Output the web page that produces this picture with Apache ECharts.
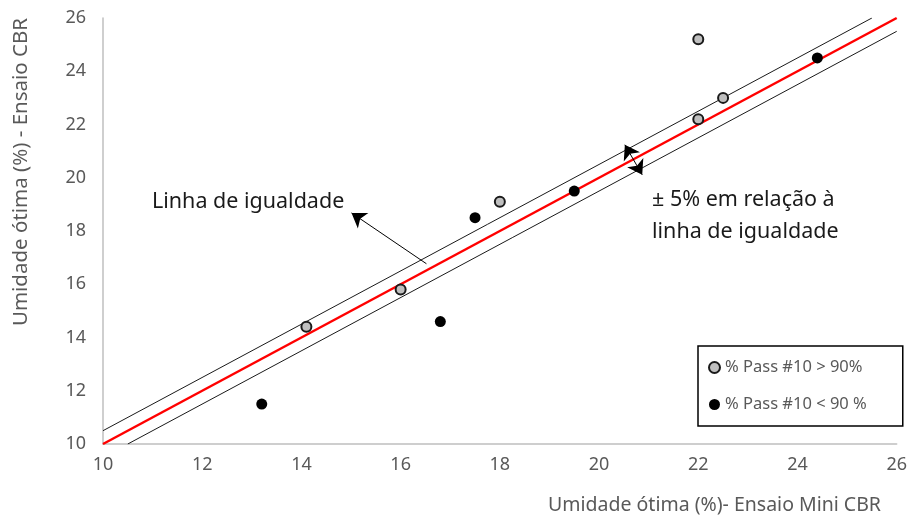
<!DOCTYPE html>
<html>
<head>
<meta charset="utf-8">
<script src="https://cdn.jsdelivr.net/npm/echarts@6/dist/echarts.min.js"></script>
<style>
  html, body { margin: 0; padding: 0; background: #fff; }
  #chart { width: 910px; height: 516px; }
</style>
</head>
<body>
<div id="chart"></div>
<script>
// ticks
const axisTicks = [10, 12, 14, 16, 18, 20, 22, 24, 26];

// % Pass #10 > 90%
const passHighX = [14.1, 16.0, 18.0, 22.0, 22.0, 22.5];
const passHighY = [14.4, 15.8, 19.1, 25.2, 22.2, 23.0];

// % Pass #10 < 90 %
const passLowX = [13.2, 16.8, 17.5, 19.5, 24.4];
const passLowY = [11.5, 14.6, 18.5, 19.5, 24.5];

// linha de igualdade e faixa +/-
const equalityLine = [[10, 10], [26, 26]];
const upperLine = [[10, 10.5], [25.5, 26]];
const lowerLine = [[10.5, 10], [26, 25.5]];

// setas das anotações (coordenadas em dados)
const arrowEquality = [[16.52, 16.77], [15.01, 18.68]];
const arrowBand = [[20.52, 21.24], [20.87, 20.11]];

const font = "'Noto Sans', 'Open Sans', sans-serif";
const grey = "#595959";

const zip = (xs, ys) => xs.map((x, i) => [x, ys[i]]);

const chart = echarts.init(document.getElementById("chart"));

const options = {
  animation: false,
  grid: {
    left: 103,
    right: 12,
    top: 18,
    bottom: 72,
  },
  xAxis: {
    type: "value",
    min: axisTicks[0],
    max: axisTicks[axisTicks.length - 1],
    interval: 2,
    axisLine: { show: true, lineStyle: { color: "#bfbfbf", width: 1.5 } },
    axisTick: { show: false },
    splitLine: { show: false },
    axisLabel: { color: grey, fontSize: 18, fontFamily: font, margin: 12 },
  },
  yAxis: {
    type: "value",
    min: axisTicks[0],
    max: axisTicks[axisTicks.length - 1],
    interval: 2,
    axisLine: { show: true, lineStyle: { color: "#bfbfbf", width: 1.5 } },
    axisTick: { show: false },
    splitLine: { show: false },
    axisLabel: { color: grey, fontSize: 18, fontFamily: font, margin: 17 },
  },
  legend: {
    orient: "vertical",
    left: 698,
    top: 346,
    itemWidth: 11,
    itemHeight: 11,
    itemGap: 20,
    padding: [13, 36, 13, 10],
    borderColor: "#000",
    borderWidth: 1.5,
    textStyle: { color: grey, fontSize: 16.5, fontFamily: font },
    data: [
      { name: "% Pass #10 > 90%", icon: "circle" },
      { name: "% Pass #10 < 90 %", icon: "circle" },
    ],
  },
  graphic: [
    {
      type: "text",
      rotation: Math.PI / 2,
      silent: true,
      x: 21,
      y: 172,
      style: {
        text: "Umidade ótima (%) - Ensaio CBR",
        fill: grey,
        font: "20.5px " + font,
        align: "center",
        verticalAlign: "middle",
      },
    },
    {
      type: "text",
      x: 881,
      y: 505,
      silent: true,
      style: {
        text: "Umidade ótima (%)- Ensaio Mini CBR",
        fill: grey,
        font: "19.5px " + font,
        align: "right",
        verticalAlign: "middle",
      },
    },
    {
      type: "text",
      x: 152,
      y: 202,
      silent: true,
      style: {
        text: "Linha de igualdade",
        fill: "#1a1a1a",
        font: "21.5px " + font,
        align: "left",
        verticalAlign: "middle",
      },
    },
    {
      type: "text",
      x: 652,
      y: 216,
      silent: true,
      style: {
        text: "± 5% em relação à\nlinha de igualdade",
        fill: "#1a1a1a",
        font: "21.5px " + font,
        lineHeight: 32,
        align: "left",
        verticalAlign: "middle",
      },
    },
  ],
  series: [
    {
      name: "superior",
      type: "line",
      data: upperLine,
      showSymbol: false,
      silent: true,
      lineStyle: { color: "#1a1a1a", width: 1 },
      z: 1,
    },
    {
      name: "inferior",
      type: "line",
      data: lowerLine,
      showSymbol: false,
      silent: true,
      lineStyle: { color: "#1a1a1a", width: 1 },
      z: 1,
    },
    {
      name: "igualdade",
      type: "line",
      data: equalityLine,
      showSymbol: false,
      silent: true,
      lineStyle: { color: "#ff0000", width: 2.5 },
      z: 2,
    },
    {
      name: "setas",
      type: "lines",
      coordinateSystem: "cartesian2d",
      silent: true,
      z: 3,
      data: [
        { coords: arrowEquality, symbol: ["none", "arrow"] },
        { coords: arrowBand, symbol: ["arrow", "arrow"] },
      ],
      symbolSize: 14,
      lineStyle: { color: "#000", width: 1, opacity: 1 },
    },
    {
      name: "% Pass #10 > 90%",
      type: "scatter",
      data: zip(passHighX, passHighY),
      symbol: "circle",
      symbolSize: 10,
      itemStyle: { color: "#bfbfbf", borderColor: "#1a1a1a", borderWidth: 2, opacity: 1 },
      z: 5,
    },
    {
      name: "% Pass #10 < 90 %",
      type: "scatter",
      data: zip(passLowX, passLowY),
      symbol: "circle",
      symbolSize: 11,
      itemStyle: { color: "#000", opacity: 1 },
      z: 5,
    },
  ],
};

chart.setOption(options);

window.addEventListener("resize", () => {
  chart.resize();
});
</script>
</body>
</html>
